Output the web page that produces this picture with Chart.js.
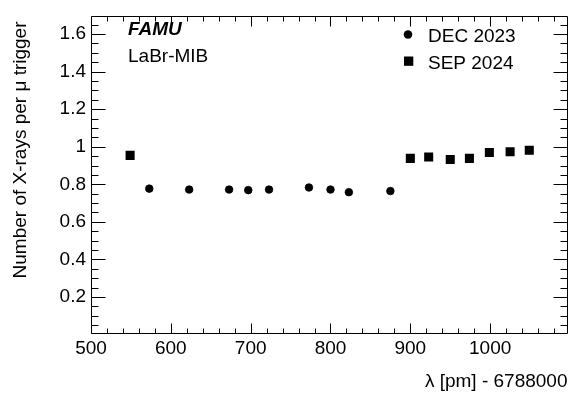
<!DOCTYPE html>
<html>
<head>
<meta charset="utf-8">
<script src="https://cdn.jsdelivr.net/npm/chart.js@4/dist/chart.umd.min.js"></script>
<style>
html,body{margin:0;padding:0;background:#fff;}
#wrap{width:574px;height:393px;}
</style>
</head>
<body>
<div id="wrap"><canvas id="c" width="574" height="393"></canvas></div>
<script>
// ---- data ----
const decX = [573, 623, 673, 697, 723, 773, 800, 823, 875];
const decY = [0.777, 0.772, 0.772, 0.769, 0.772, 0.783, 0.772, 0.758, 0.764];
const sepX = [549, 900, 923, 950, 974, 999, 1025, 1049];
const sepY = [0.954, 0.938, 0.945, 0.932, 0.938, 0.969, 0.973, 0.981];
const xTickVals = [500, 600, 700, 800, 900, 1000];
const xTickLabels = ['500', '600', '700', '800', '900', '1000'];
const yTickVals = [0.2, 0.4, 0.6, 0.8, 1.0, 1.2, 1.4, 1.6];
const yTickLabels = ['0.2', '0.4', '0.6', '0.8', '1', '1.2', '1.4', '1.6'];
const seriesNames = ['DEC 2023', 'SEP 2024'];
const xTitle = 'λ [pm] - 6788000';
const yTitle = 'Number of X-rays per μ trigger';
const label1 = 'FAMU';
const label2 = 'LaBr-MIB';

const FONT = '"Liberation Sans", Arial, Helvetica, sans-serif';

const toPts = (xs, ys) => xs.map((x, i) => ({x: x, y: ys[i]}));

const rootPlugin = {
  id: 'rootStyle',
  afterDraw(chart) {
    const ctx = chart.ctx;
    const a = chart.chartArea;
    const xs = chart.scales.x, ys = chart.scales.y;
    ctx.save();
    ctx.strokeStyle = '#000';
    ctx.lineWidth = 1;
    // frame
    const L = Math.round(a.left) + 0.5, R = Math.round(a.right) - 0.5;
    const T = Math.round(a.top) + 0.5, B = Math.round(a.bottom) - 0.5;
    ctx.beginPath();
    ctx.rect(L, T, R - L, B - T);
    ctx.stroke();
    // x ticks
    ctx.beginPath();
    for (let v = 500; v <= xs.max + 1e-6; v += 20) {
      const px = Math.round(xs.getPixelForValue(v)) + 0.5;
      const major = Math.abs(v % 100) < 1e-6;
      const len = major ? 10 : 5;
      ctx.moveTo(px, B); ctx.lineTo(px, B - len);
      ctx.moveTo(px, T); ctx.lineTo(px, T + len);
    }
    // y ticks
    for (let k = 1; k * 0.05 <= ys.max + 1e-9; k++) {
      const v = k * 0.05;
      const py = Math.round(ys.getPixelForValue(v)) + 0.5;
      const major = (k % 4) === 0;
      const len = major ? 14 : 7;
      ctx.moveTo(L, py); ctx.lineTo(L + len, py);
      ctx.moveTo(R, py); ctx.lineTo(R - len, py);
    }
    ctx.stroke();

    // axis titles
    ctx.fillStyle = '#000';
    ctx.font = '19px ' + FONT;
    ctx.textAlign = 'right';
    ctx.textBaseline = 'alphabetic';
    ctx.fillText(xTitle, R, 387);
    ctx.save();
    ctx.translate(26, T + 5);
    ctx.rotate(-Math.PI / 2);
    ctx.textAlign = 'right';
    ctx.textBaseline = 'alphabetic';
    ctx.fillText(yTitle, 0, 0);
    ctx.restore();

    // labels
    ctx.textAlign = 'left';
    ctx.textBaseline = 'middle';
    ctx.font = 'italic bold 19px ' + FONT;
    ctx.fillText(label1, 128, 30);
    ctx.font = '19px ' + FONT;
    ctx.fillText(label2, 128, 56.5);

    // legend
    ctx.font = '19px ' + FONT;
    ctx.beginPath();
    ctx.arc(408, 34.5, 4.3, 0, Math.PI * 2);
    ctx.fill();
    ctx.fillRect(404, 56.5, 9.3, 9.3);
    ctx.fillText(seriesNames[0], 428, 36.5);
    ctx.fillText(seriesNames[1], 428, 63.5);
    ctx.restore();
  }
};

new Chart(document.getElementById('c'), {
  type: 'scatter',
  data: {
    datasets: [
      {label: seriesNames[0], data: toPts(decX, decY), pointStyle: 'circle', pointRadius: 3.8,
       pointBorderWidth: 0.8, backgroundColor: '#000', borderColor: '#000', showLine: false},
      {label: seriesNames[1], data: toPts(sepX, sepY), pointStyle: 'rect', pointRadius: 6.4,
       pointBorderWidth: 0, backgroundColor: '#000', borderColor: '#000', showLine: false}
    ]
  },
  options: {
    responsive: false,
    animation: false,
    events: [],
    layout: {padding: {top: 5, right: 4, left: 0, bottom: 0}},
    plugins: {legend: {display: false}, tooltip: {enabled: false}},
    scales: {
      x: {
        type: 'linear', min: 500, max: 1097,
        afterBuildTicks: s => { s.ticks = xTickVals.map(v => ({value: v})); },
        afterFit: s => { s.height = 59; },
        grid: {display: false, drawTicks: false},
        border: {display: false},
        ticks: {
          color: '#000', font: {family: FONT, size: 19}, padding: 3, maxRotation: 0,
          callback: (v) => { const i = xTickVals.indexOf(v); return i >= 0 ? xTickLabels[i] : ''; }
        }
      },
      y: {
        type: 'linear', min: 0.003, max: 1.694,
        afterBuildTicks: s => { s.ticks = yTickVals.map(v => ({value: v})); },
        afterFit: s => { s.width = 91; },
        grid: {display: false, drawTicks: false},
        border: {display: false},
        ticks: {
          color: '#000', font: {family: FONT, size: 19}, padding: 5,
          callback: (v) => { const i = yTickVals.findIndex(t => Math.abs(t - v) < 1e-9); return i >= 0 ? yTickLabels[i] : ''; }
        }
      }
    }
  },
  plugins: [rootPlugin]
});
</script>
</body>
</html>
